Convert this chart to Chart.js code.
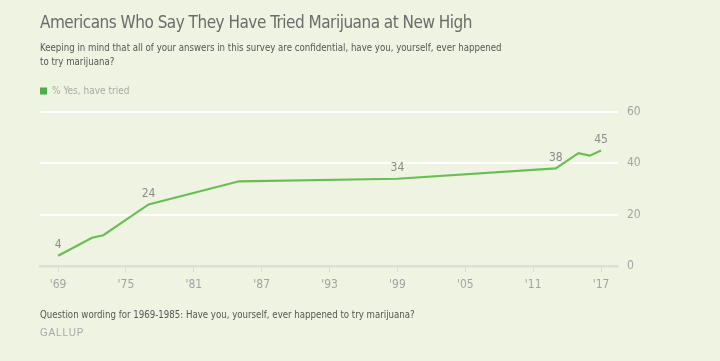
<!DOCTYPE html>
<html>
<head>
<meta charset="utf-8">
<script src="https://cdn.jsdelivr.net/npm/chart.js"></script>
<style>
  html, body { margin: 0; padding: 0; }
  body { width: 720px; height: 361px; background: #eef4e1; position: relative; overflow: hidden;
         font-family: "Liberation Sans Narrow", "DejaVu Sans Condensed", sans-serif; }
  #wrap { position: absolute; left: 0; top: 0; width: 720px; height: 361px; }
  .txt { position: absolute; left: 40px; white-space: nowrap; }
  #title { top: 12px; font-size: 17px; letter-spacing: -0.5px; color: #6b6b6b; }
  #sub { top: 41px; font-size: 9.6px; line-height: 14px; color: #555; }
  #note { top: 309px; font-size: 9.6px; color: #555; }
  #src { top: 327px; font-size: 10px; color: #a9a9a9; letter-spacing: 0.8px; font-family: "Liberation Sans", sans-serif; }
</style>
</head>
<body>
<div id="wrap"><canvas id="chart" width="720" height="361"></canvas></div>
<div class="txt" id="title">Americans Who Say They Have Tried Marijuana at New High</div>
<div class="txt" id="sub">Keeping in mind that all of your answers in this survey are confidential, have you, yourself, ever happened<br>to try marijuana?</div>
<div class="txt" id="note">Question wording for 1969-1985: Have you, yourself, ever happened to try marijuana?</div>
<div class="txt" id="src">GALLUP</div>
<script>
// survey years and % who say they have tried marijuana
const years = [1969, 1972, 1973, 1977, 1985, 1999, 2013, 2015, 2016, 2017];
const triedPct = [4, 11, 12, 24, 33, 34, 38, 44, 43, 45];
const labelledYears = [1969, 1977, 1999, 2013, 2017];
const xTicks = [1969, 1975, 1981, 1987, 1993, 1999, 2005, 2011, 2017];
const yTicks = [0, 20, 40, 60];

const narrow = '"Liberation Sans Narrow", "DejaVu Sans Condensed", sans-serif';

// small labels above selected points
const pointLabels = {
    id: 'pointLabels',
    afterDatasetsDraw(chart) {
        const ctx = chart.ctx;
        const meta = chart.getDatasetMeta(0);
        ctx.save();
        ctx.font = '12px ' + narrow;
        ctx.fillStyle = '#8c8c8c';
        ctx.textAlign = 'center';
        ctx.textBaseline = 'middle';
        meta.data.forEach((pt, i) => {
            if (labelledYears.includes(years[i])) {
                ctx.fillText(String(triedPct[i]), pt.x, pt.y - 11);
            }
        });
        ctx.restore();
    }
};

// leave a bit more room under the legend
const legendGap = {
    id: 'legendGap',
    beforeLayout(chart) {
        const lg = chart.legend;
        if (lg && !lg._gapPatched) {
            const fit = lg.fit.bind(lg);
            lg.fit = function () { fit(); this.height += 6; };
            lg._gapPatched = true;
        }
    }
};

new Chart(document.getElementById('chart').getContext('2d'), {
    type: 'line',
    data: {
        datasets: [{
            label: '% Yes, have tried',
            data: years.map((y, i) => ({ x: y, y: triedPct[i] })),
            borderColor: '#6abd55',
            backgroundColor: '#4cae45',
            borderWidth: 2.2,
            pointRadius: 0,
            tension: 0,
            fill: false
        }]
    },
    options: {
        responsive: false,
        animation: false,
        layout: { padding: { top: 86, left: 40, right: 62, bottom: 65 } },
        plugins: {
            legend: {
                position: 'top',
                align: 'start',
                labels: {
                    boxWidth: 7,
                    boxHeight: 7,
                    padding: 0,
                    color: '#a9a9a9',
                    font: { family: narrow, size: 10 },
                    generateLabels(chart) {
                        const items = Chart.defaults.plugins.legend.labels.generateLabels(chart);
                        items.forEach(it => { it.lineWidth = 0; it.strokeStyle = 'rgba(0,0,0,0)'; });
                        return items;
                    }
                }
            },
            tooltip: { enabled: false }
        },
        scales: {
            x: {
                type: 'linear',
                min: 1967.4,
                max: 2018.5,
                afterBuildTicks(scale) { scale.ticks = xTicks.map(v => ({ value: v })); },
                afterFit(scale) { scale.height = 30; },
                ticks: {
                    padding: 6,
                    color: '#a3a3a3',
                    font: { family: narrow, size: 12 },
                    callback: v => "'" + String(v).slice(2)
                },
                grid: { drawOnChartArea: false, drawTicks: true, tickLength: 6, color: '#d6dad0', lineWidth: 1 },
                border: { display: true, color: '#dcdfd6', width: 2.5 }
            },
            y: {
                position: 'right',
                min: 0,
                max: 60,
                afterBuildTicks(scale) { scale.ticks = yTicks.map(v => ({ value: v })); },
                afterFit(scale) { scale.width = 40; },
                ticks: {
                    padding: 9,
                    color: '#a3a3a3',
                    font: { family: narrow, size: 12 }
                },
                grid: {
                    drawTicks: false,
                    lineWidth: 2,
                    color: ctx => ctx.tick && ctx.tick.value === 0 ? 'rgba(0,0,0,0)' : '#ffffff'
                },
                border: { display: false }
            }
        }
    },
    plugins: [pointLabels, legendGap]
});
</script>
</body>
</html>
